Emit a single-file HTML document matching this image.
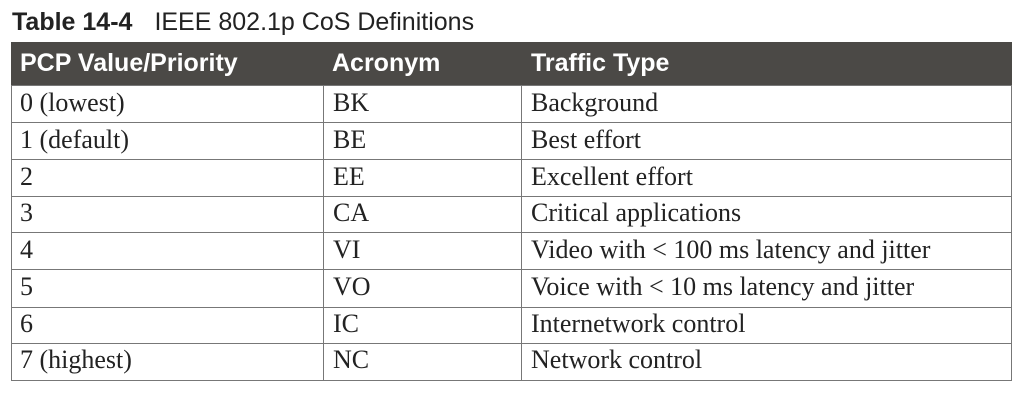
<!DOCTYPE html>
<html><head><meta charset="utf-8"><style>
body{margin:0;width:1028px;height:402px;background:#fff;position:relative;overflow:hidden;font-family:"Liberation Sans",sans-serif}
.t{position:absolute;left:12px;top:8px;font-size:25px;color:#222;white-space:nowrap}
.t b{font-size:25px;margin-right:22px}
.hd{position:absolute;left:11px;top:42px;width:1001px;height:43px;background:#4b4946}
.hd span{position:absolute;top:7px;color:#fff;font-weight:bold;font-size:25px;white-space:nowrap}
.grid{position:absolute;left:11px;top:85px;width:999px;height:294px;border:1px solid #777}
.h{position:absolute;left:0;width:999px;height:1px;background:#777}
.v{position:absolute;top:0;width:1px;height:294px;background:#777}
.c{position:absolute;font-family:"Liberation Serif",serif;font-size:26px;color:#222;white-space:nowrap}
</style></head><body>
<div class="t"><b>Table 14-4</b>IEEE 802.1p CoS Definitions</div>
<div class="hd"><span style="left:9px">PCP Value/Priority</span><span style="left:321px">Acronym</span><span style="left:520px">Traffic Type</span></div>
<div class="grid">
<div class="v" style="left:311px"></div><div class="v" style="left:509px"></div>
<div class="h" style="top:36px"></div><div class="h" style="top:73px"></div><div class="h" style="top:110px"></div><div class="h" style="top:146px"></div><div class="h" style="top:183px"></div><div class="h" style="top:221px"></div><div class="h" style="top:257px"></div>
</div>
<div class="c" style="left:20px;top:88px">0 (lowest)</div><div class="c" style="left:333px;top:88px">BK</div><div class="c" style="left:531px;top:88px">Background</div>
<div class="c" style="left:20px;top:125px">1 (default)</div><div class="c" style="left:333px;top:125px">BE</div><div class="c" style="left:531px;top:125px">Best effort</div>
<div class="c" style="left:20px;top:162px">2</div><div class="c" style="left:333px;top:162px">EE</div><div class="c" style="left:531px;top:162px">Excellent effort</div>
<div class="c" style="left:20px;top:198px">3</div><div class="c" style="left:333px;top:198px">CA</div><div class="c" style="left:531px;top:198px">Critical applications</div>
<div class="c" style="left:20px;top:235px">4</div><div class="c" style="left:333px;top:235px">VI</div><div class="c" style="left:531px;top:235px">Video with &lt; 100 ms latency and jitter</div>
<div class="c" style="left:20px;top:272px">5</div><div class="c" style="left:333px;top:272px">VO</div><div class="c" style="left:531px;top:272px">Voice with &lt; 10 ms latency and jitter</div>
<div class="c" style="left:20px;top:309px">6</div><div class="c" style="left:333px;top:309px">IC</div><div class="c" style="left:531px;top:309px">Internetwork control</div>
<div class="c" style="left:20px;top:345px">7 (highest)</div><div class="c" style="left:333px;top:345px">NC</div><div class="c" style="left:531px;top:345px">Network control</div>
</body></html>
